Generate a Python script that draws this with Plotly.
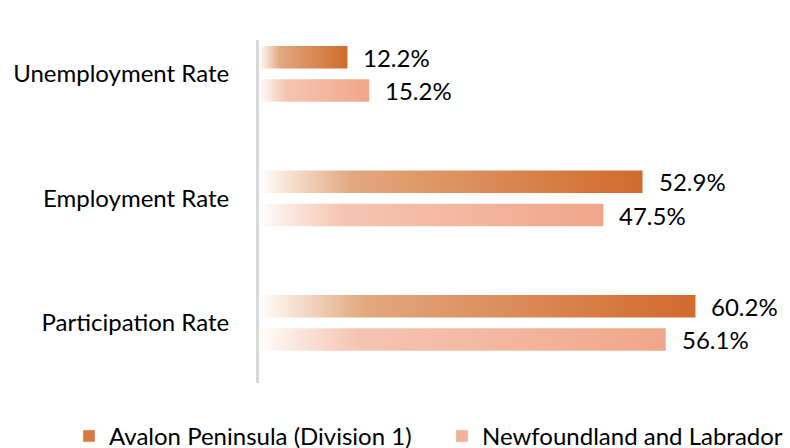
import plotly.graph_objects as go

categories = ["Unemployment Rate", "Employment Rate", "Participation Rate"]
series_names = ["Avalon Peninsula (Division 1)", "Newfoundland and Labrador"]
avalon = [12.2, 52.9, 60.2]
nl = [15.2, 47.5, 56.1]

FONT = "Lato"
FS = 24
dark_scale = [[0, "rgb(255,255,255)"], [0.06, "rgb(249,232,220)"], [0.24, "rgb(226,168,126)"],
              [1, "rgb(209,106,44)"]]
light_scale = [[0, "rgb(255,255,255)"], [0.06, "rgb(252,238,232)"], [0.24, "rgb(245,197,178)"],
               [1, "rgb(240,166,138)"]]
dark_solid = "rgb(214,120,64)"
light_solid = "rgb(242,178,152)"

offsets = [-0.135, 0.133]
half_h = 0.09

fig = go.Figure()
annotations = []
for s, (vals, scale, off) in enumerate([(avalon, dark_scale, offsets[0]), (nl, light_scale, offsets[1])]):
    for i, v in enumerate(vals):
        yc = i + off
        fig.add_trace(go.Scatter(
            x=[0, v, v, 0, 0],
            y=[yc - half_h, yc - half_h, yc + half_h, yc + half_h, yc - half_h],
            mode="none", fill="toself",
            fillgradient=dict(type="horizontal", colorscale=scale),
            showlegend=False, hoverinfo="skip"))
        annotations.append(dict(x=v, y=yc, text=f"{v:.1f}%", showarrow=False,
                                xanchor="left", yanchor="middle", xshift=14,
                                font=dict(family=FONT, size=FS, color="#000")))

# legend entries
for name, col in zip(series_names, [dark_solid, light_solid]):
    fig.add_trace(go.Bar(x=[None], y=[None], name=name, marker=dict(color=col), orientation="h"))

fig.update_layout(
    width=790, height=448,
    margin=dict(l=259, r=9, t=40, b=65, autoexpand=False),
    paper_bgcolor="white", plot_bgcolor="white",
    font=dict(family=FONT, size=FS, color="#000"),
    xaxis=dict(range=[0, 72], showgrid=False, zeroline=False, showticklabels=False,
               showline=False, fixedrange=True, automargin=False),
    yaxis=dict(range=[2.482, -0.273], tickvals=[0, 1, 2], ticktext=categories,
               showgrid=False, zeroline=False, showline=True, linecolor="#D9D9D9",
               linewidth=3, ticks="", ticklabelstandoff=22, fixedrange=True, automargin=False),
    legend=dict(orientation="h", xref="paper", x=-0.364, xanchor="left",
                yref="paper", y=-0.09, yanchor="top",
                font=dict(family=FONT, size=FS, color="#000"), entrywidth=328,
                bgcolor="rgba(0,0,0,0)"),
    annotations=annotations,
    showlegend=True,
)

fig.write_html("out.html", config={"displayModeBar": False},
               post_script="document.body.style.margin='0';document.body.style.overflow='hidden';")
